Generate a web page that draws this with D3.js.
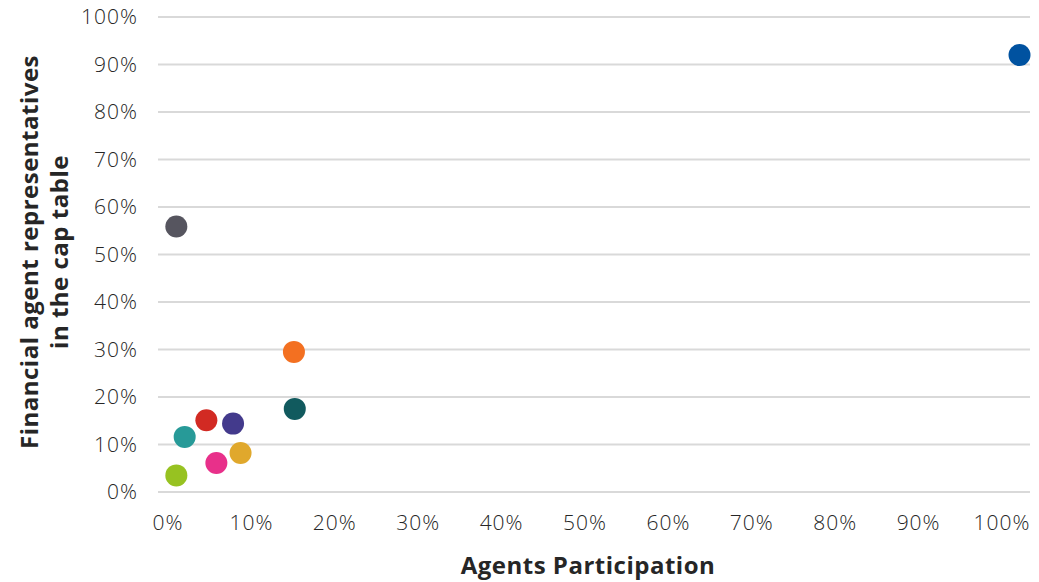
<!DOCTYPE html>
<html>
<head>
<meta charset="utf-8">
<script src="https://cdn.jsdelivr.net/npm/d3@7"></script>
<style>
  body { margin: 0; background: #fff; }
  svg text { font-family: "Open Sans", "DejaVu Sans", sans-serif; fill: #262626; }
  .tick-label { font-size: 21px; font-weight: 300; letter-spacing: 1px; }
  .axis-title { font-size: 24px; font-weight: 700; letter-spacing: 0.5px; }
</style>
</head>
<body>
<svg class="chart" width="1039" height="582"></svg>
<script>
// values (share, 0..1)
const participation = [0.010, 0.151, 0.152, 0.046, 0.078, 0.020, 0.087, 0.058, 0.010, 1.021];
const financialReps = [0.559, 0.295, 0.175, 0.151, 0.144, 0.116, 0.082, 0.061, 0.035, 0.920];
const dotColors = ['#56555f', '#f37021', '#115a5e', '#d22a23', '#433a8c', '#279a98', '#e0a82c', '#e8308a', '#97c221', '#0052a0'];
const tickValues = [0, 0.1, 0.2, 0.3, 0.4, 0.5, 0.6, 0.7, 0.8, 0.9, 1];

const points = participation.map((x, i) => ({ x, y: financialReps[i], color: dotColors[i] }));

const svg = d3.select('svg.chart');

const xScale = d3.scaleLinear().domain([0, 1]).range([168, 1002]);
const yScale = d3.scaleLinear().domain([0, 1]).range([492, 17]);
const gridLeft = 158, gridRight = 1030;
const fmt = d3.format('.0%');

// horizontal gridlines
svg.append('g')
  .selectAll('line')
  .data(tickValues)
  .enter().append('line')
    .attr('x1', gridLeft)
    .attr('x2', gridRight)
    .attr('y1', d => yScale(d))
    .attr('y2', d => yScale(d))
    .attr('stroke', '#d9d9d9')
    .attr('stroke-width', 2);

// y tick labels
svg.append('g')
  .selectAll('text')
  .data(tickValues)
  .enter().append('text')
    .attr('class', 'tick-label')
    .attr('x', 138)
    .attr('y', d => yScale(d))
    .attr('dy', '0.35em')
    .attr('text-anchor', 'end')
    .text(fmt);

// x tick labels
svg.append('g')
  .selectAll('text')
  .data(tickValues)
  .enter().append('text')
    .attr('class', 'tick-label')
    .attr('x', d => xScale(d))
    .attr('y', 523)
    .attr('dy', '0.35em')
    .attr('text-anchor', 'middle')
    .text(fmt);

// dots
svg.append('g')
  .selectAll('circle')
  .data(points)
  .enter().append('circle')
    .attr('cx', d => xScale(d.x))
    .attr('cy', d => yScale(d.y))
    .attr('r', 11)
    .attr('fill', d => d.color);

// axis titles
svg.append('text')
  .attr('class', 'axis-title')
  .attr('x', 588)
  .attr('y', 566)
  .attr('dy', '0.35em')
  .attr('text-anchor', 'middle')
  .text('Agents Participation');

const yTitle = svg.append('text')
  .attr('class', 'axis-title')
  .attr('transform', 'translate(30, 252) rotate(-90)')
  .attr('text-anchor', 'middle');
yTitle.append('tspan').attr('x', 0).attr('dy', '0.35em').text('Financial agent representatives');
yTitle.append('tspan').attr('x', 0).attr('dy', '1.25em').text('in the cap table');
</script>
</body>
</html>
